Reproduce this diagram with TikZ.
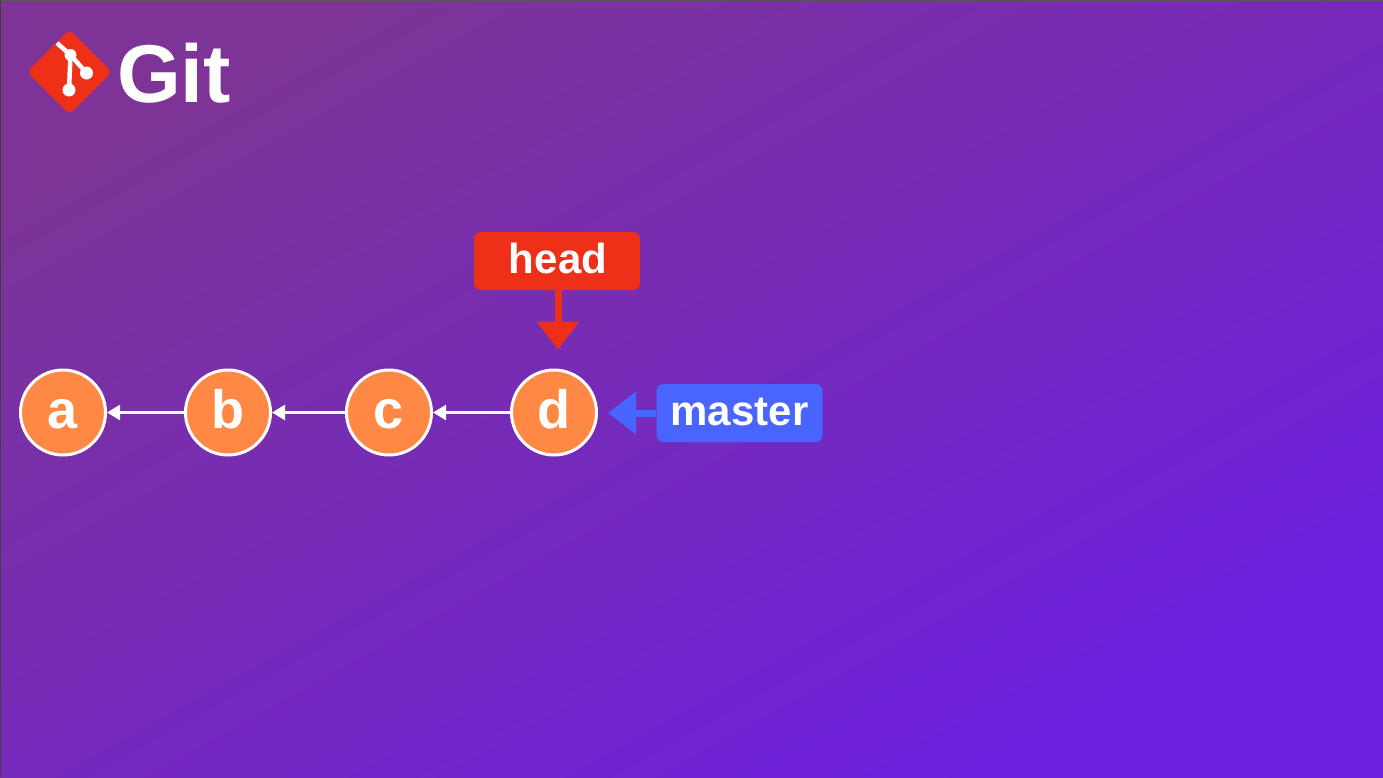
\documentclass[tikz,border=0pt]{standalone}
\usepackage{fontspec}
\usepackage{tikz}
\usetikzlibrary{positioning}
\usetikzlibrary{arrows.meta}
\usetikzlibrary{shapes.geometric}
\setmainfont{Liberation Sans}
\definecolor{bgstart}{RGB}{125,52,150}
\definecolor{bgend}{RGB}{109,32,224}
\definecolor{commitfill}{RGB}{255,136,69}
\definecolor{headred}{RGB}{238,48,24}
\definecolor{masterblue}{RGB}{73,101,255}
\tikzset{
  commit/.style={circle,draw=white,line width=3pt,fill=commitfill,text=white,
    minimum size=85pt,inner sep=0pt,text height=31pt,text depth=0pt,
    font=\bfseries\fontsize{54}{54}\selectfont},
  pointer/.style={rounded corners=7pt,minimum width=166pt,minimum height=58pt,inner sep=0pt,
    text=white,text height=24pt,text depth=0pt,font=\bfseries\fontsize{42}{42}\selectfont},
  parent/.style={white,line width=2.5pt,-{Triangle[length=13pt,width=15pt]}},
  tag/.style={line width=7pt,-{Triangle[length=28pt,width=41pt]}},
}
\begin{document}
\begin{tikzpicture}[x=1pt,y=-1pt]
\useasboundingbox (0,0) rectangle (1383,777);
\shade[top color=bgstart,bottom color=bgend,shading angle=29] (0,0) rectangle (1383,777);
\fill[black!65] (0,0) rectangle (1383,1);
\fill[black!75] (0,0) rectangle (1,777);
% logo
\node (logo) [diamond,fill=headred,rounded corners=5pt,minimum size=85pt,inner sep=0pt] at (69.5,72) {};
\draw[white,line width=4.5pt] ([shift={(-12.5,-29)}]logo.center) -- ([shift={(1,-17)}]logo.center) -- ([shift={(17,1)}]logo.center);
\draw[white,line width=4.5pt] ([shift={(1,-17)}]logo.center) -- ([shift={(-0.5,18)}]logo.center);
\fill[white] ([shift={(1,-17)}]logo.center) circle (6pt) ([shift={(17,1)}]logo.center) circle (6.5pt) ([shift={(-0.5,18)}]logo.center) circle (6.5pt);
\node (git) [text=white,inner sep=0pt,anchor=base west,font=\bfseries\fontsize{82}{82}\selectfont] at (117,102) {Git};
% commits
\node (a) [commit] at (63,412.5) {a};
\node (b) [commit,right=77pt of a] {b};
\node (c) [commit,right=73pt of b] {c};
\node (d) [commit,right=77pt of c] {d};
\path[parent]
  (b) edge (a)
  (c) edge (b)
  (d) edge (c);
% pointers
\node (head) [pointer,fill=headred] at (557,261) {\hspace{2pt}head};
\node (master) [pointer,fill=masterblue] at (739.5,413) {master};
\draw[tag,draw=headred,shorten >=19pt] ([xshift=1pt]head.south) -- ([xshift=1pt]head.south |- d.north);
\draw[tag,draw=masterblue,shorten >=10pt] (master.west) -- (d.east |- master.west);
\end{tikzpicture}
\end{document}
